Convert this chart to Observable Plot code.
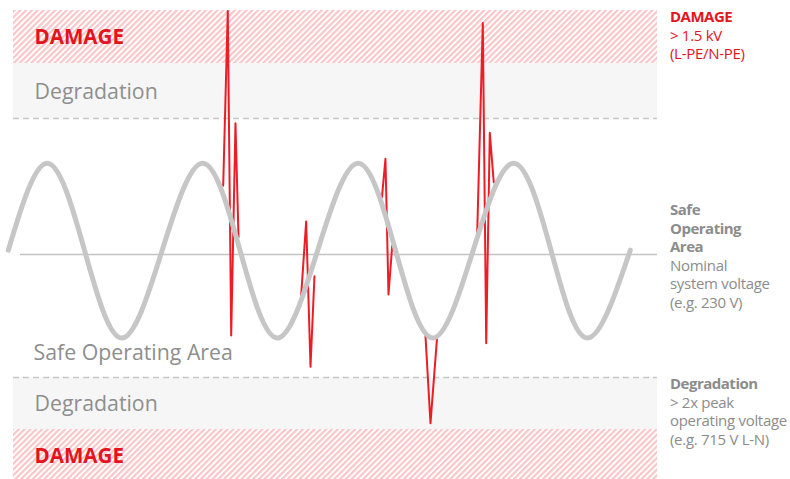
<!DOCTYPE html>
<html><head><meta charset="utf-8">
<script src="https://cdn.jsdelivr.net/npm/d3@7"></script>
<script src="https://cdn.jsdelivr.net/npm/@observablehq/plot@0.6"></script>
<style>
body{margin:0;background:#fff;}
#wrap{position:relative;width:790px;height:479px;overflow:hidden;font-family:"Open Sans",sans-serif;}
#wrap svg{position:absolute;left:0;top:0;}
.note{position:absolute;left:670px;font-size:15px;line-height:18.5px;letter-spacing:-0.3px;color:#8c8c8c;white-space:nowrap;}
.note b{font-weight:700;letter-spacing:-0.5px;}
.red{color:#e4141e;}
</style></head><body><div id="wrap"></div>
<script>
// Sine wave (time in ms, voltage in per-unit of nominal peak)
const sineT = [0,5,9.8,14.6,19.8,25,29.8,34.6,39.8,45,49.8,54.6,59.8,65,69.8,74.5,80];
const sineV = [0.05,1.05,0.05,-0.96,0.05,1.05,0.05,-0.96,0.05,1.05,0.05,-0.96,0.05,1.05,0.05,-0.96,0.05];

// Transient spikes (red)
const spikeGroup = [1,1,1,1,1, 2,2,2,2, 3,3,3,3, 4,4,4, 5,5,5,5,5];
const spikeT = [27.64,28.23,28.67,29.22,29.61, 37.58,38.31,38.87,39.38, 48.06,48.51,48.90,49.38, 53.66,54.30,55.16, 60.31,61.03,61.47,61.93,62.44];
const spikeV = [0.79,2.80,-0.93,1.51,0.20, -0.59,0.38,-1.29,-0.25, 0.66,1.10,-0.46,0.10, -0.94,-1.94,-0.94, 0.24,2.66,-1.02,1.40,0.83];

// Zones
const bandKind = ["damage","degradation","degradation","damage"];
const bandLow  = [2.195, 1.563, -2.011, -2.586];
const bandHigh = [2.805, 2.195, -1.414, -2.011];
const limitLines = [1.563, -1.414];

// In-chart labels
const labelText = ["DAMAGE","Degradation","Safe Operating Area","Degradation","DAMAGE"];
const labelY = [2.49, 1.87, -1.13, -1.72, -2.32];
const labelKind = ["damage","gray","gray","gray","damage"];
const labelDx = [21, 21, 20, 21, 21];

const sine = sineT.map((t,i)=>({t, v:sineV[i]}));
const spikes = spikeT.map((t,i)=>({t, v:spikeV[i], g:spikeGroup[i]}));
const bands = bandKind.map((k,i)=>({k, y1:bandLow[i], y2:bandHigh[i]}));
const labels = labelText.map((s,i)=>({s, y:labelY[i], k:labelKind[i], dx:labelDx[i]}));

const defs = () => {
  const g = d3.create("svg:defs");
  const p = g.append("pattern").attr("id","hatch").attr("patternUnits","userSpaceOnUse")
    .attr("width",4.1).attr("height",4.1).attr("patternTransform","rotate(45)");
  p.append("rect").attr("width",4.1).attr("height",4.1).attr("fill","#fff");
  p.append("rect").attr("width",2.2).attr("height",4.1).attr("fill","#f9c6c9");
  return g.node();
};

const textMarks = labels.map(d => Plot.text([d], {
  y:"y", text:"s", frameAnchor:"left", textAnchor:"start", dx:d.dx,
  fill: d.k==="damage" ? "#e4141e" : "#8e8e8e",
  fontSize: d.k==="damage" ? 20.6 : 21.3, fontWeight: d.k==="damage" ? 700 : 400
}));

const chart = Plot.plot({
  width:790, height:479,
  marginLeft:13, marginRight:133, marginTop:10, marginBottom:0,
  x:{domain:[0.67,83.5], axis:null},
  y:{domain:[-2.586,2.805], axis:null},
  style:{fontFamily:"Open Sans, sans-serif", background:"transparent"},
  marks:[
    defs,
    Plot.rect(bands, {y1:"y1", y2:"y2", fill:d => d.k==="damage" ? "url(#hatch)" : "#f6f6f6"}),
    Plot.ruleY(limitLines, {stroke:"#c8c8c8", strokeWidth:1.5, strokeDasharray:"6,4"}),
    Plot.ruleY([0], {x1:1.57, x2:83.5, stroke:"#c4c4c4", strokeWidth:1.5}),
    Plot.line(spikes, {x:"t", y:"v", z:"g", stroke:"#ee1c25", strokeWidth:2}),
    Plot.line(sine, {x:"t", y:"v", curve:"natural", stroke:"#c6c6c6", strokeWidth:5, strokeLinecap:"round"}),
    ...textMarks
  ]
});
const wrap = document.getElementById("wrap");
wrap.appendChild(chart);

const notes = [
  {top:7, html:'<span class="red"><b>DAMAGE</b><br>&gt; 1.5 kV<br>(L-PE/N-PE)</span>'},
  {top:200, html:'<b>Safe<br>Operating<br>Area</b><br>Nominal<br>system voltage<br>(e.g. 230 V)'},
  {top:374, html:'<b>Degradation</b><br>&gt; 2x peak<br>operating voltage<br>(e.g. 715 V L-N)'}
];
for (const n of notes) {
  const d = document.createElement("div");
  d.className = "note";
  d.style.top = n.top + "px";
  d.innerHTML = n.html;
  wrap.appendChild(d);
}
</script></body></html>
